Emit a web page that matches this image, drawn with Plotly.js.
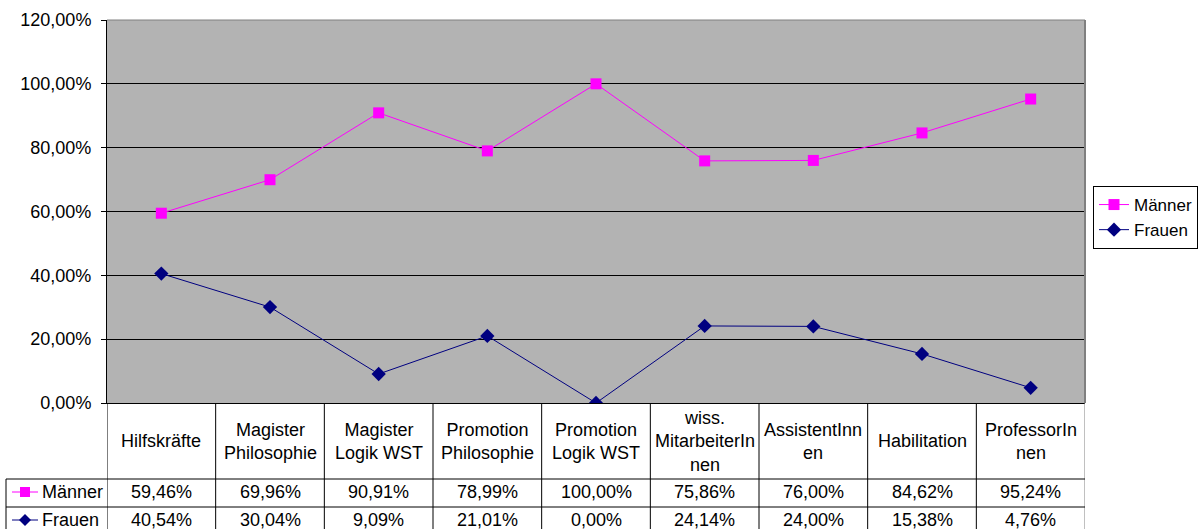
<!DOCTYPE html>
<html><head><meta charset="utf-8">
<script src="https://cdn.plot.ly/plotly-3.0.1.min.js"></script>
<style>html,body{margin:0;padding:0;background:#fff;}#chart{width:1200px;height:529px;}</style>
</head><body><div id="chart"></div>
<script>
const categories = ['Hilfskräfte','Magister<br>Philosophie','Magister<br>Logik WST','Promotion<br>Philosophie','Promotion<br>Logik WST','wiss.<br>MitarbeiterIn<br>nen','AssistentInn<br>en','Habilitation','ProfessorIn<br>nen'];
const seriesNames = ['Männer','Frauen'];
const maenner = [0.5946, 0.6996, 0.9091, 0.7899, 1.0000, 0.7586, 0.7600, 0.8462, 0.9524];
const frauen  = [0.4054, 0.3004, 0.0909, 0.2101, 0.0000, 0.2414, 0.2400, 0.1538, 0.0476];
const colors = ['#FF00FF','#000080'];

const W=1200,H=529, L=107, R=1085, T=20, B=403;
const px2x = p => (p-L)/(R-L);
const py2y = p => (B-p)/(B-T);
const fmt = v => (v*100).toFixed(2).replace('.',',')+'%';
const FONT = {family:'Liberation Sans, Arial, sans-serif', size:18, color:'#000'};
const idx = categories.map((c,i)=>i);

const traces = [
  {x: idx, y: maenner, name: seriesNames[0], type:'scatter', mode:'lines+markers',
   line:{color:colors[0], width:1}, marker:{symbol:'square', size:11, color:colors[0]}},
  {x: idx, y: frauen, name: seriesNames[1], type:'scatter', mode:'lines+markers',
   line:{color:colors[1], width:1}, marker:{symbol:'diamond', size:11, color:colors[1]}}
];

const shapes = [];
const annotations = [];
const hdrBot = 479, r1Bot = 507, r2Bot = 540;
for (let i=0;i<=categories.length;i++){
  shapes.push({type:'line', xref:'x', yref:'paper', x0:i-0.5, x1:i-0.5, y0:0, y1:py2y(r2Bot),
    line:{color: i===categories.length ? '#808080':'#000', width:1}});
}
[hdrBot, r1Bot].forEach(p=>{
  shapes.push({type:'line', xref:'paper', yref:'paper', x0:px2x(6), x1:1, y0:py2y(p), y1:py2y(p), line:{color:'#000', width:1}});
});
shapes.push({type:'line', xref:'paper', yref:'paper', x0:px2x(6), x1:px2x(6), y0:py2y(hdrBot), y1:py2y(r2Bot), line:{color:'#000', width:1}});
shapes.push({type:'line', xref:'paper', yref:'paper', x0:0, x1:1, y0:1, y1:1, line:{color:'#808080', width:1}});
shapes.push({type:'line', xref:'paper', yref:'paper', x0:1, x1:1, y0:0, y1:1, line:{color:'#808080', width:2}});

categories.forEach((c,i)=>{
  annotations.push({xref:'x', yref:'paper', x:i, y:py2y(441), text:c, showarrow:false, font:FONT, align:'center', xanchor:'center', yanchor:'middle'});
});
const rows = [maenner, frauen];
const rowCenters = [492, 520];
rows.forEach((vals,r)=>{
  vals.forEach((v,i)=>{
    annotations.push({xref:'x', yref:'paper', x:i, y:py2y(rowCenters[r]), text:fmt(v), showarrow:false, font:FONT, xanchor:'center', yanchor:'middle'});
  });
  annotations.push({xref:'paper', yref:'paper', x:px2x(40), y:py2y(rowCenters[r]), text:seriesNames[r], showarrow:false, font:FONT, xanchor:'left', yanchor:'middle'});
  const cy = rowCenters[r];
  shapes.push({type:'line', xref:'paper', yref:'paper', x0:px2x(12), x1:px2x(38), y0:py2y(cy), y1:py2y(cy), line:{color:colors[r], width:1}});
  if (r===0){
    shapes.push({type:'rect', xref:'paper', yref:'paper', x0:px2x(20), x1:px2x(30), y0:py2y(cy-5), y1:py2y(cy+5), fillcolor:colors[r], line:{width:0}});
  } else {
    const path = `M ${px2x(25)} ${py2y(cy-6)} L ${px2x(31)} ${py2y(cy)} L ${px2x(25)} ${py2y(cy+6)} L ${px2x(19)} ${py2y(cy)} Z`;
    shapes.push({type:'path', xref:'paper', yref:'paper', path:path, fillcolor:colors[r], line:{width:0}});
  }
});

const layout = {
  width:W, height:H,
  margin:{l:L, r:W-R, t:T, b:H-B, pad:0, autoexpand:false},
  paper_bgcolor:'#fff', plot_bgcolor:'#B3B3B3',
  separators:',.',
  font:FONT,
  showlegend:true,
  legend:{x:px2x(1093), xanchor:'left', y:py2y(186), yanchor:'top', bgcolor:'#fff', bordercolor:'#000', borderwidth:1,
    font:{family:FONT.family, size:17, color:'#000'}, tracegroupgap:0, itemwidth:30},
  xaxis:{type:'linear', range:[-0.5, categories.length-0.5], showticklabels:false, ticks:'', showgrid:false, zeroline:false,
    showline:true, linecolor:'#000', linewidth:1, fixedrange:true},
  yaxis:{range:[0,1.2], dtick:0.2, tick0:0, tickformat:'.2%', ticks:'outside', ticklen:5, tickcolor:'#000', tickwidth:1,
    showgrid:true, gridcolor:'#000', gridwidth:1, zeroline:false, showline:true, linecolor:'#000', linewidth:1,
    tickfont:FONT, ticklabelstandoff:6, fixedrange:true},
  shapes:shapes, annotations:annotations
};
Plotly.newPlot('chart', traces, layout, {displayModeBar:false, staticPlot:true});
</script></body></html>
